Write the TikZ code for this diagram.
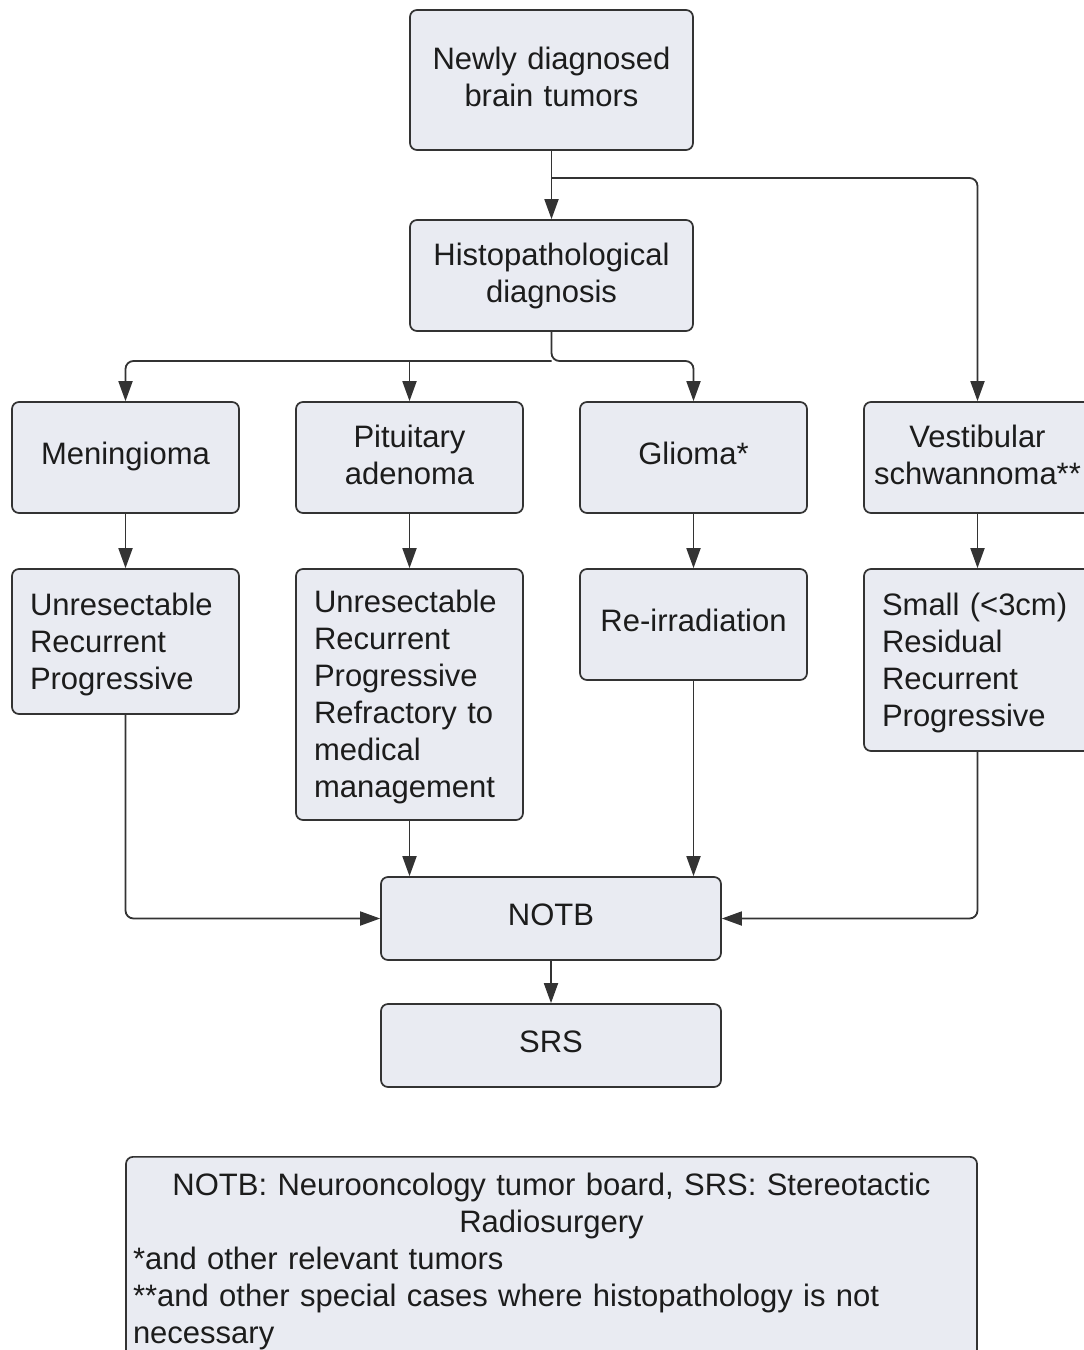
\documentclass[tikz,border=0pt]{standalone}
\usepackage{fontspec}
\setmainfont{Liberation Sans}
\usetikzlibrary{arrows.meta,calc}
\definecolor{boxfill}{HTML}{E9EBF2}
\definecolor{boxline}{HTML}{333333}
\definecolor{txt}{HTML}{1C1C1C}
\begin{document}
\begin{tikzpicture}[x=1pt,y=-1pt,
  shell/.style={draw=boxline, line width=1.7pt, fill=boxfill, rounded corners=7pt,
    text=txt, font=\fontsize{31}{37}\selectfont, inner sep=0pt},
  box/.style={shell, align=center, minimum width=227pt, minimum height=111pt,
    execute at begin node={\rule{0pt}{29pt}},
    execute at end node={\rule[-16pt]{0pt}{16pt}}},
  twoline/.style={shell, align=center, text width=227pt, minimum height=111pt,
    execute at begin node={\rule{0pt}{29pt}},
    execute at end node={\rule[-13pt]{0pt}{13pt}}},
  detail/.style={shell, align=left, text width=191pt, inner xsep=18pt, minimum width=227pt,
    execute at begin node={\rule{0pt}{29pt}},
    execute at end node={\rule[-8pt]{0pt}{8pt}}},
  legendbox/.style={shell, align=left, text width=837pt, inner xsep=7pt, inner ysep=16pt},
  conn/.style={draw=boxline, line width=1.8pt, rounded corners=8pt,
    -{Triangle[length=20pt,width=14pt]}}
]
\fill[white] (0,0) rectangle (1084,1350);
\useasboundingbox (0,0) rectangle (1084,1350);

\node[twoline, text width=283pt, minimum height=140pt] (newly) at (551.5,80) {Newly diagnosed\\brain tumors};
\node[twoline, text width=283pt] (histo) at (551.5,275.5) {Histopathological\\diagnosis};

\node[box] (mening) at (125.5,457.5) {Meningioma};
\node[twoline] (pit) at (409.5,457.5) {Pituitary\\adenoma};
\node[box] (glioma) at (693.5,457.5) {Glioma*};
\node[twoline] (vest) at (977.5,457.5) {Vestibular\\schwannoma**};

\node[detail, minimum height=145pt] (menD) at (125.5,641.5) {Unresectable\\Recurrent\\Progressive};
\node[detail, minimum height=251pt] (pitD) at (409.5,694.5) {Unresectable\\Recurrent\\Progressive\\Refractory to\\medical\\management};
\node[box] (reirr) at (693.5,624.5) {Re-irradiation};
\node[detail, minimum height=182pt] (small) at (977.5,660) {Small (<3cm)\\Residual\\Recurrent\\Progressive};

\node[box, minimum width=340pt, minimum height=83pt] (notb) at (551,918.5) {NOTB};
\node[box, minimum width=340pt, minimum height=83pt] (srs) at (551,1045.5) {SRS};

\node[legendbox, anchor=north] (legend) at (551.5,1156)
  {{\centering NOTB: Neurooncology tumor board, SRS: Stereotactic\\Radiosurgery\par}
   *and other relevant tumors\par
   **and other special cases where histopathology is not\par
   necessary};

% connectors
\coordinate (b1) at (551.5,178);
\coordinate (hj) at (551.5,361);
\draw[conn] (newly.south) -- (histo.north);
\draw[conn] (b1) -| (vest.north);
\draw[conn] (histo.south) -- (hj) -| (glioma.north);
\draw[conn] (hj) -| (mening.north);
\draw[conn] (pit.north |- hj) -- (pit.north);

\draw[conn] (mening.south) -- (menD.north);
\draw[conn] (pit.south) -- (pitD.north);
\draw[conn] (glioma.south) -- (reirr.north);
\draw[conn] (vest.south) -- (small.north);

\draw[conn] (menD.south) |- (notb.west);
\draw[conn] (small.south) |- (notb.east);
\draw[conn] (pitD.south) -- (pitD.south |- notb.north);
\draw[conn] (reirr.south) -- (reirr.south |- notb.north);
\draw[conn] (notb.south) -- (srs.north);
\end{tikzpicture}
\end{document}
